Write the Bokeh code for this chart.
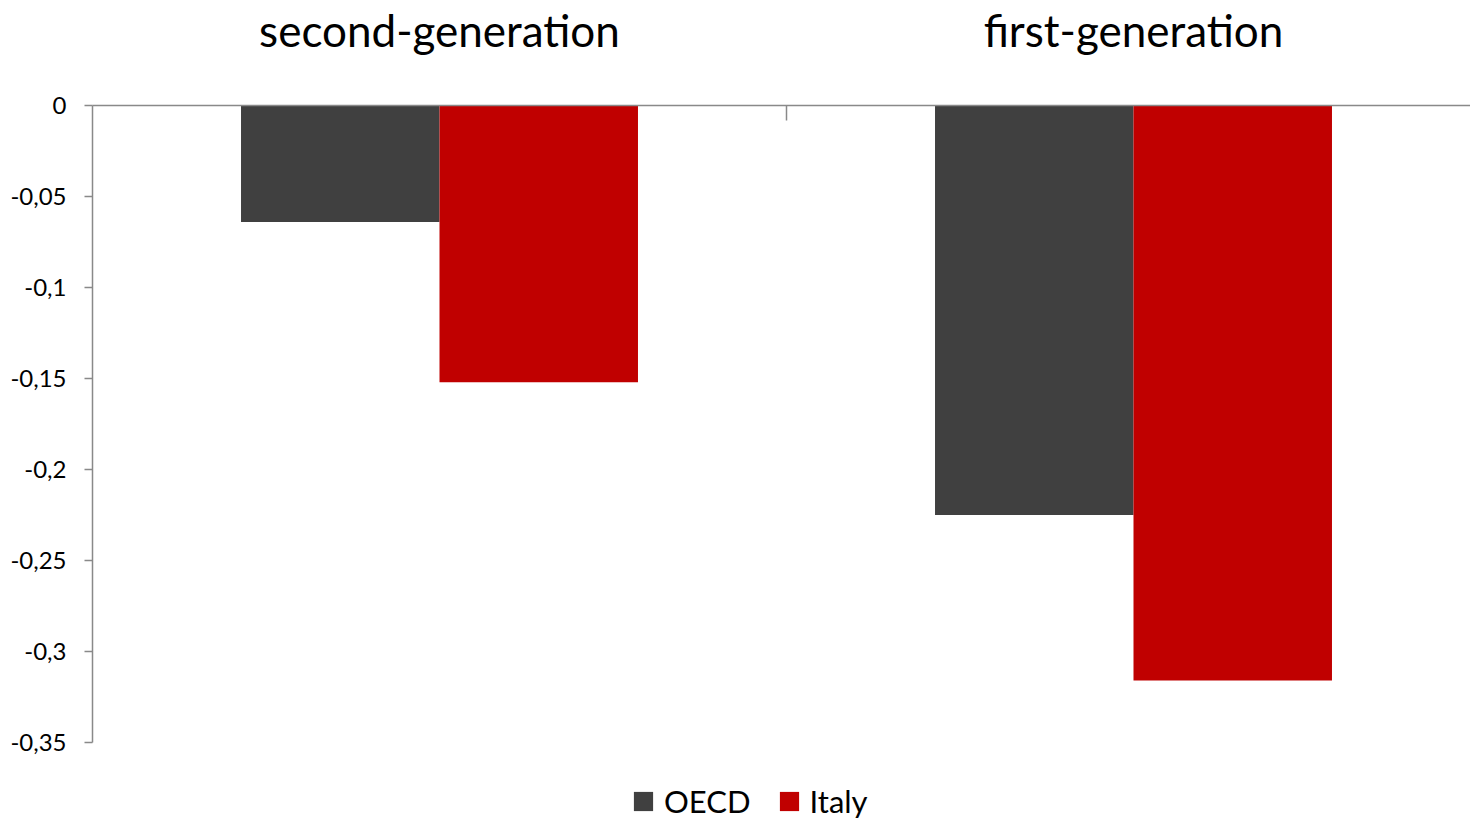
from bokeh.plotting import figure
from bokeh.models import (ColumnDataSource, Range1d, LinearAxis, FixedTicker,
                          CustomJSTickFormatter, Legend, LegendItem)
from bokeh.embed import file_html
from bokeh.resources import INLINE

# Data
groups = ["second-generation", "first-generation"]
oecd = [-0.064, -0.225]
italy = [-0.152, -0.316]
y_ticks = [0, -0.05, -0.1, -0.15, -0.2, -0.25, -0.3, -0.35]
y_min, y_max = -0.35, 0

pos = list(range(len(groups)))
bar_w = 0.286
src = ColumnDataSource(data=dict(
    pos=pos,
    oecd_x=[p - bar_w / 2 for p in pos],
    italy_x=[p + bar_w / 2 for p in pos],
    oecd=oecd,
    italy=italy,
))

FONT = "Lato"
AXIS_GREY = "#898989"

# the frame runs to the bottom of the canvas so the legend can sit below the
# value axis; the axis itself is bounded to the data span
axis_px = 637
frame_h = 715
y_lo = y_max - (y_max - y_min) * frame_h / axis_px

p = figure(frame_width=1378, frame_height=frame_h,
           output_backend="svg", toolbar_location=None,
           x_range=Range1d(-0.5, 1.4856), y_range=Range1d(y_lo, y_max),
           x_axis_location=None,
           min_border_left=92, min_border_right=0,
           min_border_top=105, min_border_bottom=0)
p.outline_line_color = None
p.grid.visible = False
p.background_fill_color = "white"
p.border_fill_color = "white"

r_oecd = p.vbar(x="oecd_x", top="oecd", bottom=0, width=bar_w, source=src,
                fill_color="#404040", line_color=None)
r_italy = p.vbar(x="italy_x", top="italy", bottom=0, width=bar_w, source=src,
                 fill_color="#C00000", line_color=None)

# value axis
ya = p.yaxis[0]
ya.bounds = (y_min, y_max)
ya.ticker = FixedTicker(ticks=y_ticks, minor_ticks=[])
ya.formatter = CustomJSTickFormatter(
    code="return String(Math.round(tick * 100) / 100).replace('.', ',');")
ya.axis_line_color = AXIS_GREY
ya.axis_line_width = 1.5
ya.major_tick_line_color = AXIS_GREY
ya.major_tick_line_width = 1.5
ya.major_tick_in = 0
ya.major_tick_out = 8
ya.major_label_standoff = 18
ya.major_label_text_font = FONT
ya.major_label_text_font_size = "24px"
ya.major_label_text_color = "black"

# category axis along the top, with separators between groups
xa = LinearAxis(
    ticker=FixedTicker(ticks=pos, minor_ticks=[0.5]),
    major_label_overrides={i: g for i, g in enumerate(groups)},
)
xa.axis_line_color = AXIS_GREY
xa.axis_line_width = 1.5
xa.major_tick_in = 0
xa.major_tick_out = 0
xa.minor_tick_in = 15
xa.minor_tick_out = 0
xa.minor_tick_line_color = AXIS_GREY
xa.minor_tick_line_width = 1.5
xa.major_label_standoff = 50
xa.major_label_text_line_height = 1.0
xa.major_label_text_font = FONT
xa.major_label_text_font_size = "44px"
xa.major_label_text_color = "black"
p.add_layout(xa, "above")

# legend along the bottom edge, under the value axis
legend = Legend(items=[LegendItem(label="OECD", renderers=[r_oecd]),
                       LegendItem(label="Italy", renderers=[r_italy])],
                orientation="horizontal", location=(539, 0),
                label_text_font=FONT, label_text_font_size="31px",
                label_text_color="black",
                glyph_width=24, glyph_height=24, label_standoff=9,
                spacing=26, padding=4, margin=0,
                border_line_color=None, background_fill_alpha=0)
p.add_layout(legend)

open("out.html", "w").write(file_html(p, INLINE))
